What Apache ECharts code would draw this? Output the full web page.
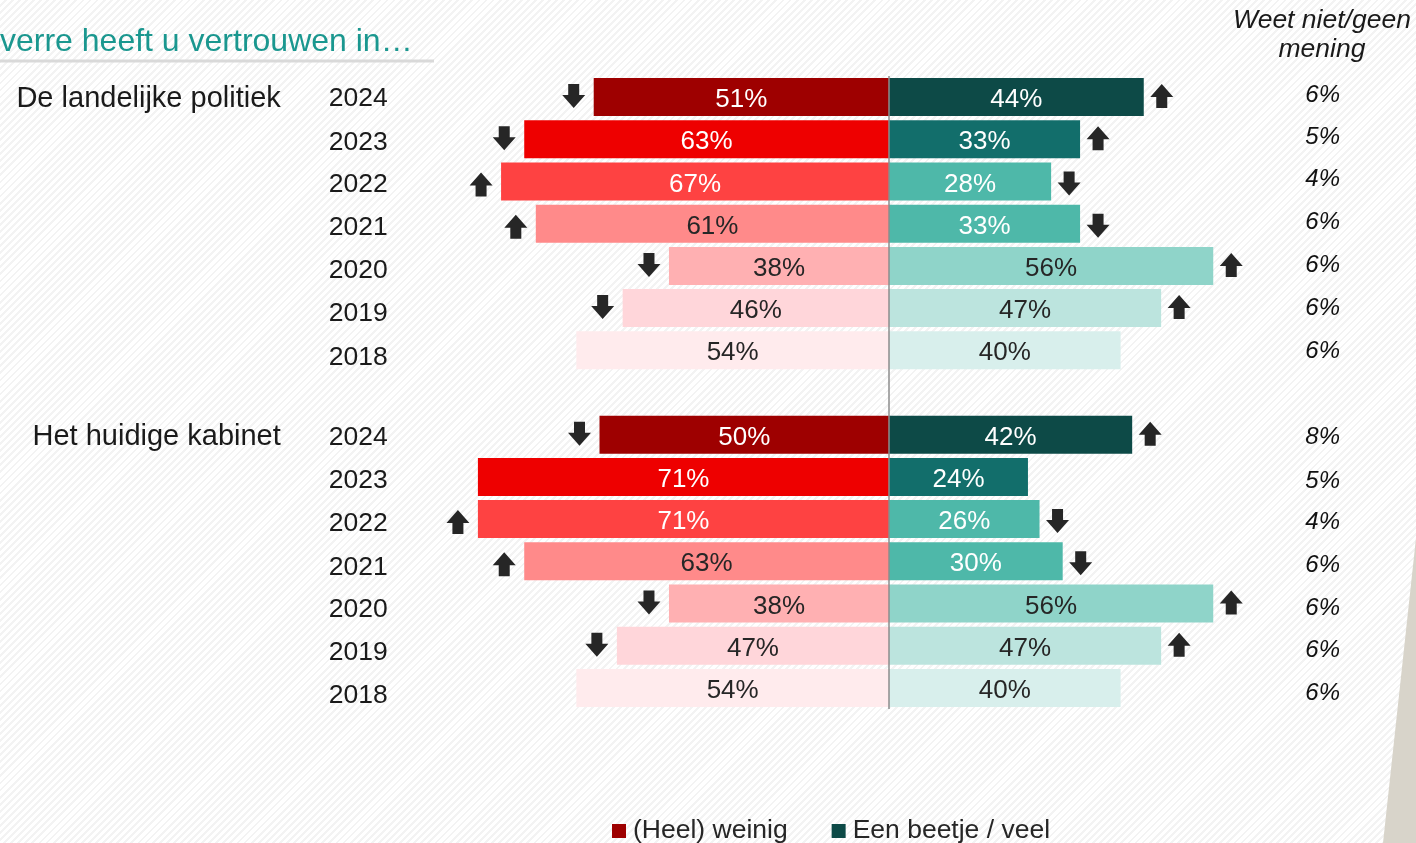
<!DOCTYPE html>
<html>
<head>
<meta charset="utf-8">
<script src="https://cdn.jsdelivr.net/npm/echarts@6/dist/echarts.min.js"></script>
<style>
html, body { margin: 0; padding: 0; }
body {
  width: 1416px; height: 843px; overflow: hidden;
  background: repeating-linear-gradient(135deg, #ffffff 0px, #ffffff 3px, #f3f3f3 3px, #f3f3f3 5px);
}
#chart { width: 1416px; height: 843px; }
</style>
</head>
<body>
<div id="chart"></div>
<script>
// ---------- data ----------
const years = ['2024', '2023', '2022', '2021', '2020', '2019', '2018'];
const groups = ['De landelijke politiek', 'Het huidige kabinet'];
const weinig1 = [51, 63, 67, 61, 38, 46, 54];
const beetje1 = [44, 33, 28, 33, 56, 47, 40];
const weetNiet1 = [6, 5, 4, 6, 6, 6, 6];
const weinig2 = [50, 71, 71, 63, 38, 47, 54];
const beetje2 = [42, 24, 26, 30, 56, 47, 40];
const weetNiet2 = [8, 5, 4, 6, 6, 6, 6];
// trend arrows: 1 = up, -1 = down, 0 = none
const trendWeinig1 = [-1, -1, 1, 1, -1, -1, 0];
const trendBeetje1 = [1, 1, -1, -1, 1, 1, 0];
const trendWeinig2 = [-1, 0, 1, 1, -1, -1, 0];
const trendBeetje2 = [1, 0, -1, -1, 1, 1, 0];
const seriesNames = ['(Heel) weinig', 'Een beetje / veel'];
const headerText = 'Weet niet/geen\nmening';
const titleText = 'verre heeft u vertrouwen in…';

// ---------- styling ----------
const FONT = "'Liberation Sans', Arial, sans-serif";
const redShades = ['#9E0000', '#EE0000', '#FE4242', '#FF8A8A', '#FFB0B2', '#FFD6DA', '#FFEBED'];
const greenShades = ['#0D4A47', '#126E6B', '#4EB8A9', '#4EB8A9', '#8FD4C9', '#BCE4DE', '#D8EFEC'];
const redLabelWhite = [true, true, true, false, false, false, false];
const greenLabelWhite = [true, true, true, true, false, false, false];
const DARK = '#262626';
const ARROW_DOWN = 'path://M6,0 L17,0 L17,11 L23,11 L11.5,24 L0,11 L6,11 Z';
const ARROW_UP = 'path://M6,24 L17,24 L17,13 L23,13 L11.5,0 L0,13 L6,13 Z';
// small per-row text nudges (px, + = down) mimicking the original text boxes
const yearNudge = [[2, 3, 3, 4, 5, 6, 7], [3, 4, 5, 6, 6, 7, 8]];
const weetNudge = [[-2, -2, -2, -1, -1, 0, 1], [3, 4, 3, 4, 5, 5, 5]];

// ---------- build category rows ----------
const cats = [];
const rowYear = [], rowGroup = [], rowWeet = [];
const weinigData = [], beetjeData = [];
const arrowLeft = [], arrowRight = [];
const blocks = [
  { w: weinig1, b: beetje1, d: weetNiet1, tw: trendWeinig1, tb: trendBeetje1 },
  { w: weinig2, b: beetje2, d: weetNiet2, tw: trendWeinig2, tb: trendBeetje2 }
];
function nudgeKey(n) { return n >= 0 ? 'p' + n : 'm' + (-n); }
blocks.forEach((blk, g) => {
  if (g > 0) {
    cats.push('gap' + g);
    rowYear.push(''); rowGroup.push(''); rowWeet.push('');
    weinigData.push('-'); beetjeData.push('-');
  }
  years.forEach((y, i) => {
    const idx = cats.length;
    cats.push('g' + g + '-' + y);
    rowYear.push('{' + nudgeKey(yearNudge[g][i]) + '|' + y + '}');
    rowGroup.push(i === 0 ? '{p2|' + groups[g] + '}' : '');
    rowWeet.push('{' + nudgeKey(weetNudge[g][i]) + '|' + blk.d[i] + '%}');
    weinigData.push({
      value: -blk.w[i],
      itemStyle: { color: redShades[i] },
      label: { color: redLabelWhite[i] ? '#ffffff' : DARK }
    });
    beetjeData.push({
      value: blk.b[i],
      itemStyle: { color: greenShades[i] },
      label: { color: greenLabelWhite[i] ? '#ffffff' : DARK }
    });
    if (blk.tw[i] !== 0) {
      arrowLeft.push({
        value: [-blk.w[i], idx],
        symbol: blk.tw[i] > 0 ? ARROW_UP : ARROW_DOWN,
        symbolOffset: [-20, blk.tw[i] > 0 ? 3 : -1]
      });
    }
    if (blk.tb[i] !== 0) {
      arrowRight.push({
        value: [blk.b[i], idx],
        symbol: blk.tb[i] > 0 ? ARROW_UP : ARROW_DOWN,
        symbolOffset: [18, blk.tb[i] > 0 ? -1 : 2]
      });
    }
  });
});

function richFor(base) {
  const r = {};
  for (let n = -4; n <= 10; n++) {
    const s = Object.assign({}, base);
    s.padding = n >= 0 ? [2 * n, 0, 0, 0] : [0, 0, -2 * n, 0];
    r[nudgeKey(n)] = s;
  }
  return r;
}

const chart = echarts.init(document.getElementById('chart'), null, { renderer: 'canvas' });

const yearStyle = { fontFamily: FONT, fontSize: 26.5, color: '#1a1a1a' };
const groupStyle = { fontFamily: FONT, fontSize: 29, color: '#1a1a1a' };
const weetStyle = { fontFamily: FONT, fontSize: 24, fontStyle: 'italic', color: '#111111' };

const option = {
  backgroundColor: 'transparent',
  animation: false,
  textStyle: { fontFamily: FONT },
  title: {
    text: titleText,
    left: 0,
    top: 23,
    padding: 0,
    textStyle: { fontFamily: FONT, fontSize: 32, fontWeight: 'normal', color: '#1A978F', lineHeight: 38 }
  },
  legend: {
    data: seriesNames,
    left: 612,
    top: 817,
    icon: 'rect',
    itemWidth: 14,
    itemHeight: 14,
    itemGap: 44,
    padding: 0,
    selectedMode: false,
    textStyle: { fontFamily: FONT, fontSize: 26.5, color: DARK, lineHeight: 28, padding: [0, 0, 0, 2] }
  },
  grid: { left: 425.8, right: 121.7, top: 76, bottom: 134, containLabel: false },
  xAxis: {
    type: 'value',
    min: -80,
    max: 70,
    show: false
  },
  yAxis: [
    {
      type: 'category',
      inverse: true,
      data: cats,
      axisLine: { show: false },
      axisTick: { show: false },
      splitLine: { show: false },
      axisLabel: {
        margin: 38,
        fontFamily: FONT,
        fontSize: 26.5,
        color: '#1a1a1a',
        rich: richFor(yearStyle),
        formatter: (v, i) => rowYear[i]
      }
    },
    {
      type: 'category',
      inverse: true,
      position: 'left',
      data: cats,
      axisLine: { show: false },
      axisTick: { show: false },
      splitLine: { show: false },
      axisLabel: {
        margin: 145,
        fontFamily: FONT,
        fontSize: 29,
        color: '#1a1a1a',
        rich: richFor(groupStyle),
        formatter: (v, i) => rowGroup[i]
      }
    },
    {
      type: 'category',
      inverse: true,
      position: 'right',
      data: cats,
      axisLine: { show: false },
      axisTick: { show: false },
      splitLine: { show: false },
      axisLabel: {
        margin: 11,
        fontFamily: FONT,
        fontSize: 24,
        fontStyle: 'italic',
        color: '#111111',
        rich: richFor(weetStyle),
        formatter: (v, i) => rowWeet[i]
      }
    }
  ],
  series: [
    {
      name: seriesNames[0],
      type: 'bar',
      yAxisIndex: 0,
      barWidth: '90%',
      barGap: '-100%',
      itemStyle: { color: redShades[0] },
      label: {
        show: true,
        position: 'inside',
        offset: [0, 3],
        fontFamily: FONT,
        fontSize: 26,
        formatter: p => Math.abs(p.value) + '%'
      },
      data: weinigData,
      markLine: {
        silent: true,
        symbol: 'none',
        label: { show: false },
        lineStyle: { color: '#8C8C8C', width: 1.5, type: 'solid' },
        data: [{ xAxis: 0 }],
        z: 10
      },
      z: 2
    },
    {
      name: seriesNames[1],
      type: 'bar',
      yAxisIndex: 0,
      barWidth: '90%',
      barGap: '-100%',
      itemStyle: { color: greenShades[0] },
      label: {
        show: true,
        position: 'inside',
        offset: [0, 3],
        fontFamily: FONT,
        fontSize: 26,
        formatter: p => p.value + '%'
      },
      data: beetjeData,
      z: 2
    },
    {
      name: 'trend-left',
      type: 'scatter',
      yAxisIndex: 0,
      silent: true,
      symbolSize: [23, 24],
      itemStyle: { color: DARK, opacity: 1 },
      data: arrowLeft,
      z: 5
    },
    {
      name: 'trend-right',
      type: 'scatter',
      yAxisIndex: 0,
      silent: true,
      symbolSize: [23, 24],
      itemStyle: { color: DARK, opacity: 1 },
      data: arrowRight,
      z: 5
    }
  ],
  graphic: [
    {
      type: 'line',
      shape: { x1: 0, y1: 61, x2: 434, y2: 61 },
      style: { stroke: '#D9D9D9', lineWidth: 3 },
      silent: true
    },
    {
      type: 'text',
      x: 1322,
      y: 35,
      style: {
        text: headerText,
        fontFamily: FONT,
        fontSize: 26.5,
        fontStyle: 'italic',
        fill: '#1a1a1a',
        align: 'center',
        verticalAlign: 'middle',
        lineHeight: 29
      },
      silent: true
    },
    {
      type: 'polygon',
      shape: { points: [[1416, 538], [1383, 843], [1416, 843]] },
      style: { fill: '#D8D4CA' },
      silent: true
    }
  ]
};

chart.setOption(option);
</script>
</body>
</html>
